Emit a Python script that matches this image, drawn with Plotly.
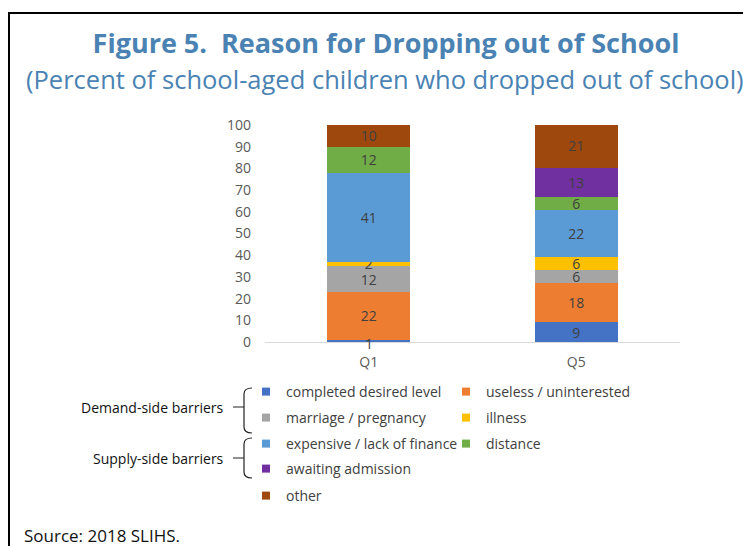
import plotly.graph_objects as go

# page body has an 8px margin: the figure is placed at (8, 8)
OFF = 8
W, H = 751 - OFF, 546 - OFF

categories = ["Q1", "Q5"]
reasons = ["completed desired level", "useless / uninterested", "marriage / pregnancy", "illness",
           "expensive / lack of finance", "distance", "awaiting admission", "other"]
completed = [1, 9]
useless = [22, 18]
marriage = [12, 6]
illness = [2, 6]
expensive = [41, 22]
distance = [12, 6]
awaiting = [0, 13]
other = [10, 21]
series_values = [completed, useless, marriage, illness, expensive, distance, awaiting, other]
colors = ["#4472C4", "#ED7D31", "#A5A5A5", "#FFC000", "#5B9BD5", "#70AD47", "#7030A0", "#9E480E"]
y_ticks = list(range(0, 101, 10))

FONT = "Open Sans"
BLUE = "#4A83B3"
LABEL_FONT = dict(family=FONT, size=14, color="#404040")

Y_LO = -4            # a little room below zero
PX_PER_UNIT = 2.17   # 100 units over 217 px


def px(x):
    return (x - OFF) / W


def py(y):
    return 1 - (y - OFF) / H


fig = go.Figure()
small_labels = []
base = [0] * len(categories)
for name, vals, col in zip(reasons, series_values, colors):
    texts = []
    for j, v in enumerate(vals):
        if v == 1:
            # too thin a segment for inside text: label it just under the segment
            small_labels.append(dict(x=categories[j], y=base[j] + v / 2, text=str(v)))
            texts.append("")
        else:
            texts.append(str(v) if v else "")
        base[j] += v
    fig.add_trace(go.Bar(
        x=categories, y=vals, name=name, marker=dict(color=col, line=dict(width=0)),
        text=texts, textposition="inside",
        insidetextanchor="middle", textangle=0, constraintext="none",
        textfont=LABEL_FONT,
        showlegend=False, hoverinfo="skip", legendgroup=name,
    ))

# legend rows
legend_rows = [[0, 1], [2, 3], [4, 5], [6], [7]]
row_y = [392, 418, 444, 469, 496]
legend_names = ["legend", "legend2", "legend3", "legend4", "legend5"]
for r, idxs in enumerate(legend_rows):
    for i in idxs:
        fig.add_trace(go.Scatter(
            x=[None], y=[None], mode="markers", name=reasons[i], legendgroup=reasons[i],
            marker=dict(symbol="square", size=8, color=colors[i]),
            legend=legend_names[r], showlegend=True, hoverinfo="skip",
        ))

layout_legends = {}
for r, yy in enumerate(row_y):
    layout_legends[legend_names[r]] = dict(
        orientation="h", x=px(246), xanchor="left", y=py(yy), yanchor="middle",
        entrywidth=155, entrywidthmode="pixels", bgcolor="rgba(0,0,0,0)",
        font=dict(family=FONT, size=14, color="#404040"), itemclick=False, itemdoubleclick=False,
        tracegroupgap=0,
    )

shapes = []
# border
shapes.append(dict(type="line", xref="paper", yref="paper", x0=px(8), x1=px(760), y0=py(13), y1=py(13),
                   line=dict(color="black", width=2)))
shapes.append(dict(type="line", xref="paper", yref="paper", x0=px(9), x1=px(9), y0=py(12), y1=py(560),
                   line=dict(color="black", width=2)))


def brace(xr, xv, xt, yt, ym, yb):
    p = (f"M {px(xr)},{py(yt)} Q {px(xv)},{py(yt)} {px(xv)},{py(yt + 6)} "
         f"L {px(xv)},{py(yb - 6)} Q {px(xv)},{py(yb)} {px(xr)},{py(yb)} "
         f"M {px(xt)},{py(ym)} L {px(xv)},{py(ym)}")
    return dict(type="path", xref="paper", yref="paper", path=p, line=dict(color="#222222", width=1.2))


shapes.append(brace(252, 244, 233, 388, 407, 433))
shapes.append(brace(252, 244, 233, 438, 458, 478))

annotations = [
    dict(text="(Percent of school-aged children who dropped out of school)", x=px(385), y=py(79),
         xref="paper", yref="paper", showarrow=False, xanchor="center", yanchor="middle",
         font=dict(family=FONT, size=25.5, color=BLUE)),
    dict(text="Demand-side barriers", x=px(226), y=py(407), xref="paper", yref="paper", showarrow=False,
         xanchor="right", yanchor="middle", font=dict(family=FONT, size=14, color="#111111")),
    dict(text="Supply-side barriers", x=px(226), y=py(458), xref="paper", yref="paper", showarrow=False,
         xanchor="right", yanchor="middle", font=dict(family=FONT, size=14, color="#111111")),
    dict(text="Source: 2018 SLIHS.", x=px(22), y=py(535), xref="paper", yref="paper", showarrow=False,
         xanchor="left", yanchor="middle", font=dict(family=FONT, size=17, color="#111111")),
]
for lab in small_labels:
    annotations.append(dict(text=lab["text"], x=lab["x"], y=lab["y"], xref="x", yref="y",
                            showarrow=False, xanchor="center", yanchor="middle", yshift=-3,
                            font=LABEL_FONT))

y_bottom_px = 342 + (-Y_LO) * PX_PER_UNIT

fig.update_layout(
    width=W, height=H, margin=dict(l=0, r=0, t=0, b=0, autoexpand=False),
    paper_bgcolor="white", plot_bgcolor="white",
    barmode="stack", bargap=0.6,
    title=dict(text="<b>Figure 5.&nbsp; Reason for Dropping out of School</b>", x=px(386), xanchor="center",
               y=py(44), yanchor="middle", xref="paper", yref="paper", automargin=False,
               font=dict(family=FONT, size=27, color=BLUE)),
    xaxis=dict(domain=[px(265), px(680)], showline=False,
               ticks="", ticklabelstandoff=1, showgrid=False,
               tickfont=dict(family=FONT, size=14, color="#595959"),
               fixedrange=True, automargin=False),
    yaxis=dict(domain=[py(y_bottom_px), py(125)], range=[Y_LO, 100], tickvals=y_ticks, showgrid=False,
               showline=False, zeroline=True, zerolinecolor="#D9D9D9", zerolinewidth=1,
               ticks="", ticklabelstandoff=13,
               tickfont=dict(family=FONT, size=14, color="#595959"), fixedrange=True, automargin=False),
    shapes=shapes, annotations=annotations,
    hovermode=False,
    **layout_legends,
)

fig.write_html("out.html", config={"displayModeBar": False})
